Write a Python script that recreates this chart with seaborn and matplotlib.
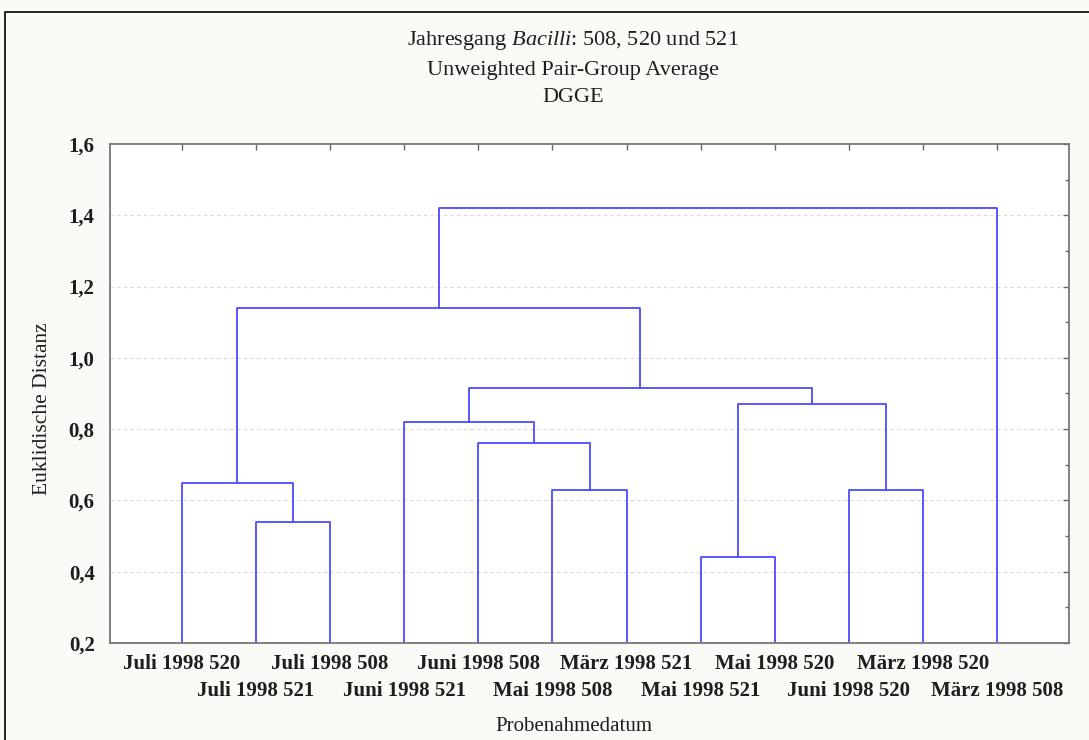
import matplotlib
matplotlib.use("Agg")
import matplotlib.pyplot as plt
import matplotlib.patches as mpatches
from matplotlib.ticker import MultipleLocator, FixedLocator
import numpy as np
import pandas as pd
import seaborn as sns

# Sampling dates / sites, in dendrogram leaf order
leaf_labels = [
    "Juli 1998 520", "Juli 1998 521", "Juli 1998 508", "Juni 1998 521",
    "Juni 1998 508", "Mai 1998 508", "März 1998 521", "Mai 1998 521",
    "Mai 1998 520", "Juni 1998 520", "März 1998 520", "März 1998 508",
]

# UPGMA linkage: ids < 12 are leaves, id 12+k is the cluster formed by merge k
merge_left = [1, 0, 5, 4, 3, 7, 9, 17, 16, 13, 21]
merge_right = [2, 12, 6, 14, 15, 8, 10, 18, 19, 20, 11]
merge_height = [0.54, 0.65, 0.63, 0.76, 0.82, 0.44, 0.63, 0.87, 0.915, 1.14, 1.42]

y_ticks = [0.2, 0.4, 0.6, 0.8, 1.0, 1.2, 1.4, 1.6]

sns.set_style("white")
plt.rcParams["font.family"] = ["Liberation Serif", "DejaVu Serif"]
plt.rcParams["mathtext.fontset"] = "custom"
plt.rcParams["mathtext.rm"] = "Liberation Serif"
plt.rcParams["mathtext.it"] = "Liberation Serif:italic"

TXT = "#1e1e1e"
FS = 15

# Build the U-shaped link segments
n = len(leaf_labels)
node_x = {i: i + 1.0 for i in range(n)}
node_y = {i: 0.0 for i in range(n)}
rows = []
for k, (a, b, h) in enumerate(zip(merge_left, merge_right, merge_height)):
    xa, ya, xb, yb = node_x[a], node_y[a], node_x[b], node_y[b]
    for j, (px, py) in enumerate([(xa, ya), (xa, h), (xb, h), (xb, yb)]):
        rows.append({"link": k, "order": j, "x": px, "y": py})
    node_x[n + k] = (xa + xb) / 2.0
    node_y[n + k] = h
links = pd.DataFrame(rows)

fig = plt.figure(figsize=(10.89, 7.40), dpi=100, facecolor="#fcfaf6")
fig.patches.append(mpatches.Rectangle((5 / 1089, -0.01), 1.0, 1 - 12 / 740 + 0.01,
                                      transform=fig.transFigure, fill=False,
                                      edgecolor="black", linewidth=1.2))
ax = fig.add_axes([110 / 1089, 1 - 643 / 740, (1069 - 110) / 1089, (643 - 144) / 740])
ax.set_facecolor("white")

sns.lineplot(data=links, x="x", y="y", units="link", estimator=None, sort=False,
             color="#4a4aff", linewidth=1.3, ax=ax, legend=False)

ax.set_xlim(0.03, 12.97)
ax.set_ylim(0.2, 1.6)

# Leaf labels alternate between two rows: odd leaves on major ticks, even on minor
leaf_pos = np.arange(1, n + 1)
ax.xaxis.set_major_locator(FixedLocator(leaf_pos[0::2]))
ax.xaxis.set_minor_locator(FixedLocator(leaf_pos[1::2]))
ax.set_xticklabels(leaf_labels[0::2], fontsize=FS, fontweight="bold", color=TXT)
ax.set_xticklabels(leaf_labels[1::2], minor=True, fontsize=FS, fontweight="bold", color=TXT)

ax.set_yticks(y_ticks)
ax.set_yticklabels([f"{v:.1f}".replace(".", ",") for v in y_ticks],
                   fontsize=FS, fontweight="bold", color=TXT)
ax.yaxis.set_minor_locator(MultipleLocator(0.1))

ax.tick_params(axis="both", which="both", direction="in", top=True, right=True,
               color="#666666", width=1.0)
ax.tick_params(axis="x", which="major", length=4, pad=8)
ax.tick_params(axis="x", which="minor", length=4, pad=27.5)
ax.tick_params(axis="y", which="major", length=4, pad=11)
ax.tick_params(axis="y", which="minor", length=3)

for y in y_ticks[1:-1]:
    ax.axhline(y, color="#d8d8d8", linewidth=0.8, linestyle=(0, (3, 3)), zorder=0)

for s in ax.spines.values():
    s.set_color("#777777")
    s.set_linewidth(1.3)

ax.set_xlabel("Probenahmedatum", fontsize=FS, color=TXT)
ax.xaxis.set_label_coords((574 - 110) / 959, -(717 - 643) / 499)
ax.set_ylabel("Euklidische Distanz", fontsize=FS + 0.5, color=TXT)
ax.yaxis.set_label_coords(-(110 - 52) / 959, (643 - 409) / 499)

title_x = 573 / 1089
fig.text(title_x, 1 - 40 / 740, r"Jahresgang $\it{Bacilli}$: 508, 520 und 521",
         ha="center", va="center", fontsize=16, color=TXT)
fig.text(title_x, 1 - 70 / 740, "Unweighted Pair-Group Average",
         ha="center", va="center", fontsize=16, color=TXT)
fig.text(title_x, 1 - 98 / 740, "DGGE",
         ha="center", va="center", fontsize=16, color=TXT)

fig.savefig("out.png", dpi=100, facecolor=fig.get_facecolor())
